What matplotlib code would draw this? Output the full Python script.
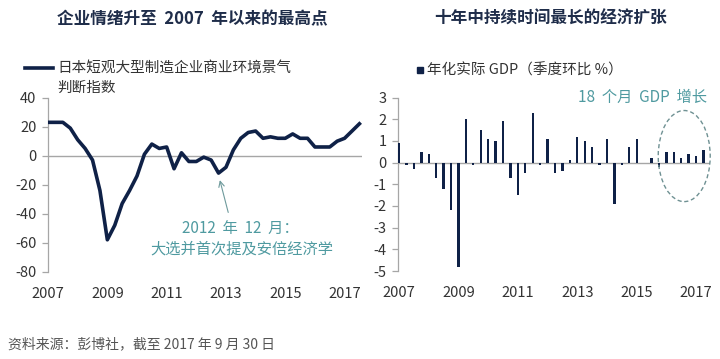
#!/usr/bin/env python3
# -*- coding: utf-8 -*-

"""
Japan: Tankan sentiment and quarterly GDP growth, side by side
"""

import matplotlib
matplotlib.use('Agg')
import matplotlib.pyplot as plt
from matplotlib.lines import Line2D
from matplotlib.patches import Ellipse

plt.rcParams['font.family'] = ['Noto Sans CJK SC', 'DejaVu Sans']
plt.rcParams['axes.unicode_minus'] = False

# Tankan large manufacturers DI, quarterly 2007Q1 .. 2017Q3
tankan = [23, 23, 23, 19,
          11, 5, -3, -24,
          -58, -48, -33, -24,
          -14, 1, 8, 5,
          6, -9, 2, -4,
          -4, -1, -3, -12,
          -8, 4, 12, 16,
          17, 12, 13, 12,
          12, 15, 12, 12,
          6, 6, 6, 10,
          12, 17, 22]

# Real GDP, q/q %, quarterly 2007Q1 .. 2017Q2
gdp = [0.9, -0.1, -0.3, 0.5,
       0.4, -0.7, -1.2, -2.2,
       -4.8, 2.0, -0.1, 1.5,
       1.1, 1.0, 1.9, -0.7,
       -1.5, -0.5, 2.3, -0.1,
       1.1, -0.5, -0.4, 0.1,
       1.2, 1.0, 0.7, -0.1,
       1.1, -1.9, -0.1, 0.7,
       1.1, 0.0, 0.2, -0.2,
       0.5, 0.5, 0.2, 0.4,
       0.3, 0.6]

year_ticks = [2007, 2009, 2011, 2013, 2015, 2017]
left_yticks = [-80, -60, -40, -20, 0, 20, 40]
right_yticks = [-5, -4, -3, -2, -1, 0, 1, 2, 3]

NAVY = '#0f2147'
TEAL = '#4f9aa0'
GREY = '#a6a6a6'
TXT = '#333333'


def quarters(n, start=2007):
    return [start + i / 4 for i in range(n)]


def style_axis(ax):
    for side in ('top', 'right', 'bottom'):
        ax.spines[side].set_visible(False)
    ax.spines['left'].set_color(GREY)
    ax.spines['left'].set_linewidth(0.9)
    ax.tick_params(axis='y', length=4, width=0.9, color=GREY,
                   labelsize=10.5, labelcolor=TXT, pad=4)
    ax.tick_params(axis='x', length=0, labelsize=10.5, labelcolor=TXT, pad=11)
    ax.set_xticks(year_ticks)
    ax.set_xticklabels([str(y) for y in year_ticks])
    ax.patch.set_alpha(0)


fig = plt.figure(figsize=(7.2, 3.59), dpi=100)

# ---- left panel: Tankan ----
ax1 = fig.add_axes([0.0663, 0.2432, 0.4370, 0.4847])
ax1.axhline(0, color=GREY, lw=1, zorder=1)
ax1.plot(quarters(len(tankan)), tankan, color=NAVY, lw=2.6,
         solid_joinstyle='round', zorder=3)
ax1.set_xlim(2006.99, 2017.6)
ax1.set_ylim(-80, 40)
ax1.set_yticks(left_yticks)
style_axis(ax1)

ax1.annotate('', xy=(2012.77, -15), xytext=(2013.1, -41),
             arrowprops=dict(arrowstyle='->', color='#6e9a9c', lw=0.8))
ax1.text(2013.47, -50.5, '2012  年  12  月：', color=TEAL, fontsize=11,
         ha='center', va='center')
ax1.text(2013.54, -64.3, '大选并首次提及安倍经济学', color=TEAL, fontsize=11,
         ha='center', va='center')

# ---- right panel: GDP ----
ax2 = fig.add_axes([0.5524, 0.2451, 0.4338, 0.4833])
ax2.axhline(0, color=GREY, lw=1, zorder=1)
ax2.bar(quarters(len(gdp)), gdp, width=0.08, color=NAVY, zorder=3)
ax2.set_xlim(2006.956, 2017.47)
ax2.set_ylim(-5, 3)
ax2.set_yticks(right_yticks)
style_axis(ax2)

ax2.add_patch(Ellipse((2016.6, 0.3), 1.75, 4.2, fill=False,
                      edgecolor='#6f9193', lw=1, linestyle=(0, (3, 2)),
                      zorder=4, clip_on=False))
ax2.text(2015.18, 3.02, '18  个月  GDP  增长', color=TEAL, fontsize=11,
         ha='center', va='center')

# ---- titles, legends, source ----
fig.text(0.2667, 0.947, '企业情绪升至  2007  年以来的最高点', fontsize=12,
         fontweight='bold', color='#1f2d4a', ha='center', va='center')
fig.text(0.765, 0.947, '十年中持续时间最长的经济扩张', fontsize=12,
         fontweight='bold', color='#1f2d4a', ha='center', va='center')

fig.add_artist(Line2D([0.0347, 0.0736], [0.8114, 0.8114], color=NAVY,
                      lw=2.6, transform=fig.transFigure))
fig.text(0.0792, 0.8114, '日本短观大型制造企业商业环境景气', fontsize=10.5,
         color=TXT, ha='left', va='center')
fig.text(0.0792, 0.7549, '判断指数', fontsize=10.5,
         color=TXT, ha='left', va='center')

fig.add_artist(Line2D([0.5833], [0.805], marker='s', markersize=5,
                      color=NAVY, transform=fig.transFigure))
fig.text(0.593, 0.805, '年化实际 GDP（季度环比 %）', fontsize=10.5,
         color=TXT, ha='left', va='center')

fig.text(0.011, 0.0418, '资料来源：彭博社，截至 2017 年 9 月 30 日',
         fontsize=10, color='#555555', ha='left', va='center')

fig.savefig('out.png', dpi=100, facecolor='white')
